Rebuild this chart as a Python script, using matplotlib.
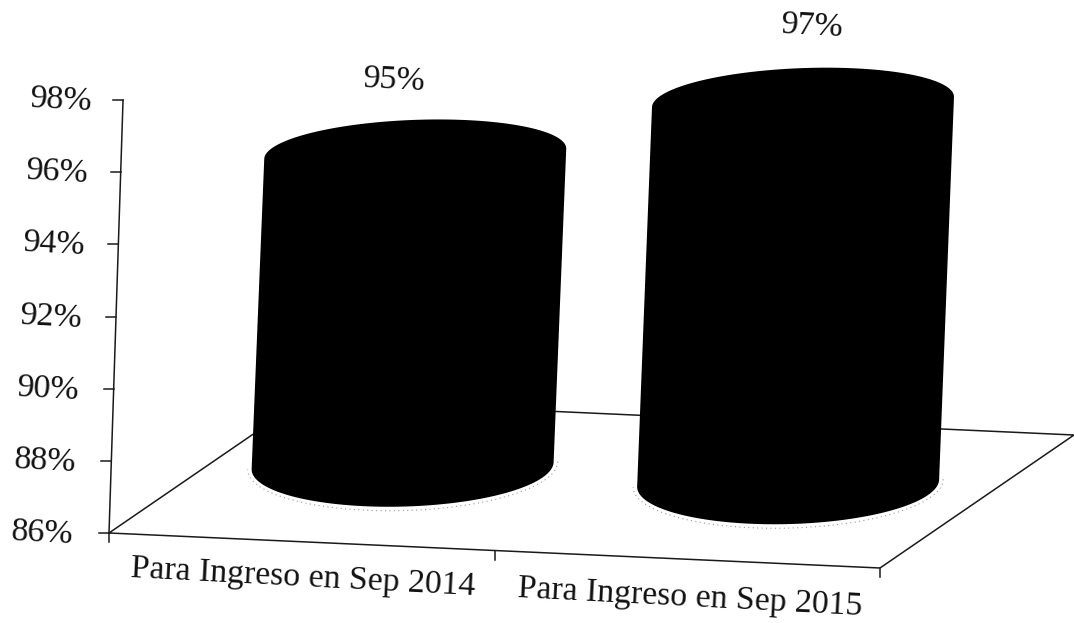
import numpy as np
import matplotlib.pyplot as plt

plt.rcParams['font.family'] = ['Liberation Serif', 'DejaVu Serif']

categories = ["Para Ingreso en Sep 2014", "Para Ingreso en Sep 2015"]
values = [95, 97]
y_ticks = [86, 88, 90, 92, 94, 96, 98]

# the chart is a tilted 3d projection, so every mark goes through this
origin = np.array([109., 533.])
cat_vec = np.array([385.5, 17.5])
val_vec = np.array([1.17, -36.08])
depth_vec = np.array([194., -133.])
y_min = 86
fore = 0.96  # bars sit further back, they look a bit shorter


def proj(cat, depth, val):
    return origin + cat * cat_vec + depth * depth_vec + (val - y_min) * val_vec


def ellipse(center, a, b, tilt, t):
    return center[0] + np.cos(t) * a, center[1] + np.cos(t) * a * tilt + np.sin(t) * b


fig = plt.figure(figsize=(10.74, 6.23), dpi=100)
ax = fig.add_axes([0, 0, 1, 1])
ax.set_xlim(0, 1074)
ax.set_ylim(623, 0)
ax.axis('off')

# floor and axes
line = dict(color='#1a1a1a', lw=1.1, zorder=1)
n = len(categories)
pts = [proj(0, 0, y_min), proj(n, 0, y_min), proj(n, 1, y_min), proj(0, 1, y_min), proj(0, 0, y_min)]
ax.plot([p[0] for p in pts], [p[1] for p in pts], **line)
top = proj(0, 0, y_ticks[-1])
ax.plot([pts[0][0], top[0]], [pts[0][1], top[1]], **line)

for v in y_ticks:
    p = proj(0, 0, v)
    ax.plot([p[0] - 10, p[0]], [p[1], p[1]], **line)
    ax.text(p[0] - 36 + (v - y_min) * 0.42, p[1] + 2, f"{v}%", ha='right', va='center', fontsize=24.5,
            rotation=-3, rotation_mode='anchor', color='#111111')

for i in range(n + 1):
    p = proj(i, 0, y_min)
    ax.plot([p[0], p[0]], [p[1], p[1] + 9], **line)

for i, c in enumerate(categories):
    p = proj(i + 0.5, 0, y_min)
    ax.text(p[0] + 1 + 2 * i, p[1] + 36 + 3 * i, c, ha='center', va='center', fontsize=24.3,
            rotation=-3, rotation_mode='anchor', color='#111111')

# cylinders
t_low = np.linspace(0, np.pi, 80)
t_up = np.linspace(np.pi, 2 * np.pi, 80)
for i, v in enumerate(values):
    base = proj(i + 0.5, 0.52, y_min) + np.array([0.0, -7.0])
    head = base + fore * (v - y_min) * val_vec + np.array([2.5, 0.0])
    x1, y1 = ellipse(base, 151, 41, -0.025, t_low)
    x2, y2 = ellipse(head, 151, 34, -0.035, t_up)
    ax.fill(np.r_[x1, x2], np.r_[y1, y2], color='black', lw=0, zorder=3)
    # speckle from the scan around the foot
    xs, ys = ellipse(base, 155, 45, -0.025, t_low)
    ax.plot(xs, ys, color='#999999', lw=0.8, ls=(0, (1, 3)), zorder=2)
    ax.text(head[0] - 21 + i * 30, head[1] - 73 - i * 3, f"{v}%", ha='center', va='center',
            fontsize=24.5, rotation=-3, rotation_mode='anchor', color='#111111')

fig.savefig('out.png', dpi=100)
